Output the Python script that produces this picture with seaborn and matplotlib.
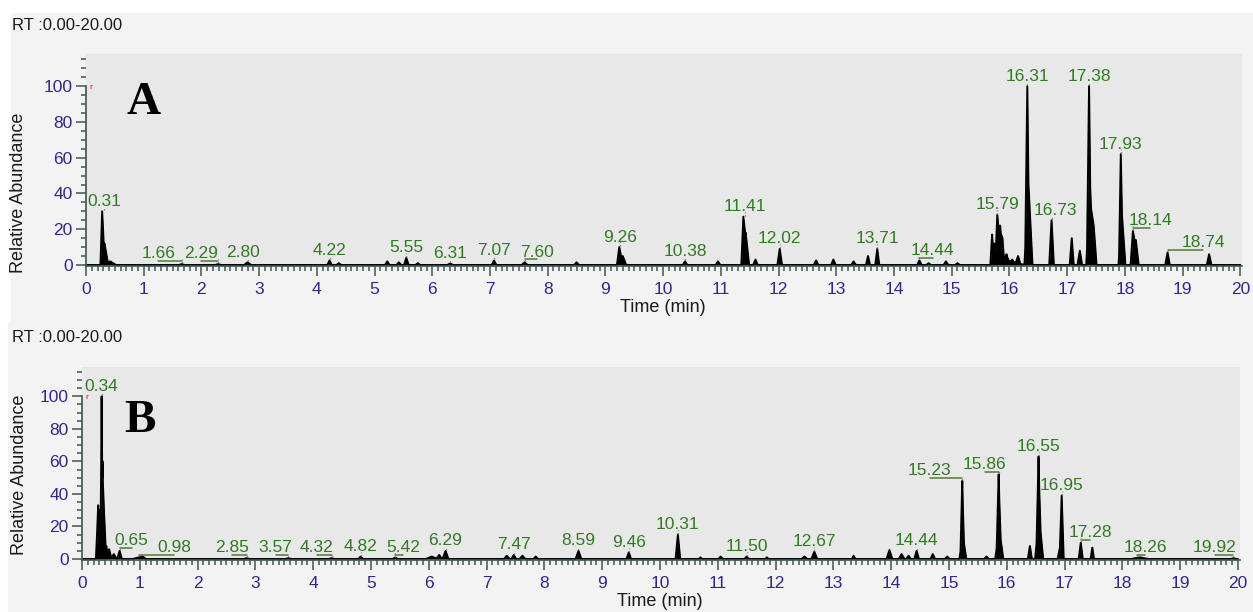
import numpy as np
import pandas as pd
import matplotlib
matplotlib.use("Agg")
import matplotlib.pyplot as plt
import seaborn as sns
from matplotlib.patches import Rectangle
from matplotlib.ticker import MultipleLocator

# Chromatogram A: retention time (min), relative abundance (%), half width (min)
rt_a = [0.28, 0.32, 0.42, 1.66, 2.29, 2.80, 4.22, 4.38, 5.22, 5.42, 5.55, 5.75,
        6.31, 7.07, 7.60, 8.50, 9.24, 9.30, 10.38, 10.95, 11.39, 11.43, 11.60,
        12.02, 12.65, 12.95, 13.30, 13.55, 13.71, 14.44, 14.60, 14.90, 15.10,
        15.70, 15.74, 15.79, 15.84, 15.88, 15.95, 15.96, 16.05, 16.15, 16.31, 16.33,
        16.73, 17.08, 17.22, 17.38, 17.40, 17.46, 17.93, 17.95, 18.14, 18.19,
        18.74, 19.46]
height_a = [30, 12, 2, 0.5, 0.5, 1.5, 2.5, 1.0, 2.0, 1.5, 4.0, 1.0,
            0.8, 2.5, 1.5, 1.5, 10, 5, 2.0, 2.0, 27, 18, 3.0,
            9.0, 2.5, 3.0, 2.0, 5.0, 9.0, 2.5, 1.0, 2.0, 1.0,
            17, 12, 28, 22, 15, 6, 2.5, 3, 5, 100, 45,
            25, 15, 8, 100, 40, 22, 62, 28, 19, 14,
            7, 6]
width_a = [0.03, 0.06, 0.1, 0.05, 0.05, 0.06, 0.04, 0.04, 0.04, 0.04, 0.04, 0.04,
           0.05, 0.04, 0.05, 0.04, 0.04, 0.06, 0.04, 0.04, 0.035, 0.06, 0.04,
           0.04, 0.04, 0.04, 0.04, 0.035, 0.035, 0.04, 0.04, 0.04, 0.04,
           0.03, 0.03, 0.035, 0.05, 0.03, 0.04, 0.3, 0.03, 0.04, 0.035, 0.07,
           0.04, 0.035, 0.04, 0.035, 0.07, 0.05, 0.03, 0.06, 0.04, 0.05,
           0.04, 0.04]
labels_a = ["0.31", "1.66", "2.29", "2.80", "4.22", "5.55", "6.31", "7.07", "7.60",
            "9.26", "10.38", "11.41", "12.02", "13.71", "14.44", "15.79", "16.31",
            "16.73", "17.38", "17.93", "18.14", "18.74"]

# Chromatogram B
rt_b = [0.26, 0.28, 0.31, 0.34, 0.355, 0.38, 0.42, 0.47, 0.55, 0.65, 0.98, 1.05,
        2.85, 3.57, 4.32, 4.82, 5.42, 6.05, 6.18, 6.29, 7.35, 7.47, 7.62, 7.85,
        8.59, 9.46, 10.31, 10.70, 11.05, 11.50, 11.85, 12.50, 12.67, 13.35,
        13.97, 14.18, 14.30, 14.44, 14.72, 14.97, 15.23, 15.24, 15.65, 15.86,
        15.87, 16.40, 16.55, 16.56, 16.92, 16.95, 17.28, 17.48, 18.30, 19.92]
height_b = [15, 33, 30, 100, 60, 30, 8, 6, 3, 5, 1.0, 1.5,
            0.5, 0.5, 0.5, 1.5, 0.8, 1.5, 2.5, 5, 2.0, 2.5, 2.0, 1.5,
            5, 4, 15, 1.0, 1.5, 1.5, 1.0, 1.5, 4.5, 2.0,
            5.5, 3.0, 2.0, 5.0, 3.0, 1.5, 48, 14, 1.5, 52,
            18, 8, 63, 26, 7, 39, 10, 7, 1.0, 0.5]
width_b = [0.02, 0.02, 0.02, 0.02, 0.025, 0.03, 0.04, 0.04, 0.05, 0.04, 0.1, 0.06,
           0.05, 0.05, 0.05, 0.04, 0.05, 0.1, 0.05, 0.05, 0.05, 0.04, 0.05, 0.04,
           0.05, 0.04, 0.04, 0.03, 0.04, 0.04, 0.03, 0.05, 0.05, 0.03,
           0.05, 0.05, 0.04, 0.04, 0.04, 0.04, 0.03, 0.06, 0.04, 0.035,
           0.07, 0.035, 0.035, 0.07, 0.04, 0.035, 0.035, 0.03, 0.15, 0.05]
labels_b = ["0.34", "0.65", "0.98", "2.85", "3.57", "4.32", "4.82", "5.42", "6.29",
            "7.47", "8.59", "9.46", "10.31", "11.50", "12.67", "14.44", "15.23",
            "15.86", "16.55", "16.95", "17.28", "18.26", "19.92"]

# label text displacement (min) where the software moved the label aside
shift_a = {"1.66": -0.41, "2.29": -0.29, "2.80": -0.08, "7.60": 0.21, "14.44": 0.23,
           "16.73": 0.07, "18.14": 0.30, "18.74": 0.62}
shift_b = {"0.65": 0.21, "0.98": 0.61, "2.85": -0.25, "3.57": -0.22, "4.32": -0.26,
           "5.42": 0.13, "15.23": -0.56, "15.86": -0.24, "17.28": 0.16,
           "18.26": 0.13, "19.92": -0.32}

sns.set_theme(style="white")
plt.rcParams['font.family'] = ['Liberation Sans', 'DejaVu Sans']

W, H = 1253, 612
OUTER = '#f3f3f3'
INNER = '#e8e8e8'
AXIS_COL = '#3d5555'
TICK_COL = '#33288a'
LABEL_GREEN = '#327a24'


def build_trace(rts, heights, widths):
    rts = np.asarray(rts, float)
    h = np.asarray(heights, float)
    w = np.asarray(widths, float)
    t = np.unique(np.concatenate([[0.0, 20.0], rts - w, rts, rts + w]))
    tri = h[:, None] * (1 - np.abs(t[None, :] - rts[:, None]) / w[:, None])
    y = np.clip(tri, 0, None).max(axis=0)
    return pd.DataFrame({"time": t, "abundance": y})


def draw_panel(ax, rts, heights, widths, labels, shifts, letter, letter_xy):
    df = build_trace(rts, heights, widths)
    ax.set_facecolor(INNER)
    ax.fill_between(df["time"], df["abundance"], 0, color='black', lw=0)
    sns.lineplot(data=df, x="time", y="abundance", ax=ax, color='black', lw=1.4,
                 estimator=None, sort=True)
    ax.set_xlim(0, 20.03)
    ax.set_ylim(-0.8, 118)
    for s in ['top', 'right']:
        ax.spines[s].set_visible(False)
    for s in ['left', 'bottom']:
        ax.spines[s].set_color(AXIS_COL)
        ax.spines[s].set_linewidth(1.2)
    ax.spines['left'].set_bounds(-0.8, 100)
    ax.xaxis.set_major_locator(MultipleLocator(1))
    ax.xaxis.set_minor_locator(MultipleLocator(0.1))
    ax.yaxis.set_major_locator(MultipleLocator(20))
    ax.yaxis.set_minor_locator(MultipleLocator(5))
    ax.tick_params(which='both', direction='out', color=AXIS_COL, width=1.1,
                   labelcolor=TICK_COL, labelsize=12.5, bottom=True, left=True)
    ax.tick_params(which='major', length=7.5)
    ax.tick_params(which='minor', length=3.5)
    ax.tick_params(axis='x', which='major', pad=4)
    ax.tick_params(axis='y', which='major', pad=2)
    ax.set_xlabel("")
    ax.set_ylabel("")

    rts_arr = np.asarray(rts)
    h_arr = np.asarray(heights)
    for lab in labels:
        rt = float(lab)
        near = np.abs(rts_arr - rt) < 0.05
        h = max(h_arr[near].max() if near.any() else 0.5, 0.6)
        dx = shifts.get(lab, 0.0)
        ax.annotate(lab, xy=(rt + dx, h), xytext=(0, 4), textcoords='offset points',
                    ha='center', va='baseline', color=LABEL_GREEN, fontsize=12.5)
        # little dotted marker between peak apex and label
        ax.plot([rt, rt], [h + 0.6, h + 2.6], ls=':', color='#6b6b6b', lw=0.9)
        if abs(dx) > 0.1:
            ax.plot([rt, rt + dx], [h + 1.6, h + 1.6], color='#557a33', lw=1.1)

    ax.text(0.06, 99, 'r', color='red', fontsize=6, ha='left', va='center')
    ax.text(*letter_xy, letter, transform=ax.figure.transFigure,
            family=['Liberation Serif', 'DejaVu Serif'], fontweight='bold',
            fontsize=34, ha='center', va='center', color='black')


fig = plt.figure(figsize=(W / 100, H / 100), dpi=100)
fig.patch.set_facecolor('white')
fig.patches.append(Rectangle((11 / W, 1 - 323 / H), 1 - 11 / W, 310 / H,
                             transform=fig.transFigure, color=OUTER, zorder=-10))
fig.patches.append(Rectangle((8 / W, 0), 1 - 8 / W, 1 - 323 / H,
                             transform=fig.transFigure, color=OUTER, zorder=-10))

ax_a = fig.add_axes([86 / W, 1 - 266.4 / H, 1156 / W, 212.4 / H])
ax_b = fig.add_axes([82 / W, 1 - 560.3 / H, 1157.7 / W, 193.3 / H])

draw_panel(ax_a, rt_a, height_a, width_a, labels_a, shift_a, "A", (144 / W, 1 - 103 / H))
draw_panel(ax_b, rt_b, height_b, width_b, labels_b, shift_b, "B", (140 / W, 1 - 421 / H))

for ytop, ylab, ytime, xlab, xtime in [(25, 193, 308, 19, 663), (338, 475, 602, 20, 660)]:
    fig.text(12 / W, 1 - ytop / H, "RT :0.00-20.00", fontsize=12, color='#1a1a1a',
             ha='left', va='center')
    fig.text(xlab / W, 1 - ylab / H, "Relative Abundance", rotation=90, fontsize=13,
             color='#1a1a1a', ha='center', va='center')
    fig.text(xtime / W, 1 - ytime / H, "Time (min)", fontsize=13, color='#1a1a1a',
             ha='center', va='center')

fig.savefig("out.png", dpi=100, facecolor=fig.get_facecolor())
